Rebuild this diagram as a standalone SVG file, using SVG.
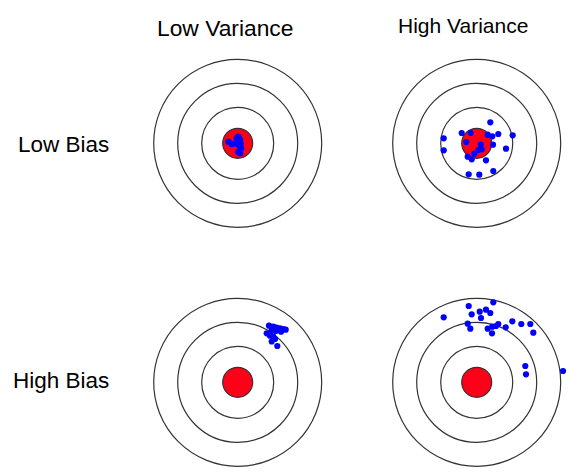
<svg xmlns="http://www.w3.org/2000/svg" width="582" height="476" viewBox="0 0 582 476">
<style>
.ring{fill:none;stroke:#333;stroke-width:1.2}
.bull{fill:#ff0018;stroke:#333;stroke-width:1.2}
.dot{fill:#0000ff}
.lbl{font-family:"Liberation Sans",Arial,sans-serif;fill:#000}
</style>
<defs>
<g id="target">
<circle class="ring" r="84"/>
<circle class="ring" r="60"/>
<circle class="ring" r="36"/>
<circle class="bull" r="15"/>
</g>
</defs>
<rect width="582" height="476" fill="#fff"/>
<text class="lbl" x="157" y="36" font-size="22.8">Low Variance</text>
<text class="lbl" x="398" y="33" font-size="21">High Variance</text>
<text class="lbl" x="18" y="152" font-size="22.5">Low Bias</text>
<text class="lbl" x="13" y="388" font-size="22.5">High Bias</text>
<g id="target-lowbias-lowvar">
<use href="#target" x="237.7" y="143.3"/>
<g class="dot">
<circle cx="228.5" cy="141.7" r="3.3"/><circle cx="231.7" cy="144" r="3.3"/><circle cx="235.7" cy="143.3" r="3.3"/>
<circle cx="236.7" cy="138.3" r="3.3"/><circle cx="238.3" cy="136.7" r="3.3"/><circle cx="240" cy="140" r="3.3"/>
<circle cx="239" cy="145" r="3.3"/><circle cx="241" cy="148.3" r="3.3"/><circle cx="238.3" cy="151.7" r="3.3"/>
<circle cx="240" cy="153.3" r="3.3"/><circle cx="240.5" cy="144" r="3.3"/>
</g>
</g>
<g id="target-lowbias-highvar">
<use href="#target" x="476.7" y="143.3"/>
<g class="dot">
<circle cx="490.3" cy="122.3" r="3.1"/><circle cx="461.7" cy="133" r="3.1"/><circle cx="470.7" cy="133" r="3.1"/>
<circle cx="487.7" cy="134.7" r="3.1"/><circle cx="492.3" cy="136.3" r="3.1"/><circle cx="498.3" cy="134" r="3.1"/>
<circle cx="512.7" cy="135.3" r="3.1"/><circle cx="443.7" cy="138.3" r="3.1"/><circle cx="466.3" cy="142" r="3.1"/>
<circle cx="493" cy="144.7" r="3.1"/><circle cx="480.7" cy="144.7" r="3.1"/><circle cx="506" cy="148.7" r="3.1"/>
<circle cx="443.7" cy="150.3" r="3.1"/><circle cx="481.7" cy="149.3" r="3.1"/><circle cx="478.3" cy="150" r="3.1"/>
<circle cx="474.3" cy="153.7" r="3.1"/><circle cx="467.7" cy="156.7" r="3.1"/><circle cx="471.7" cy="159.3" r="3.1"/>
<circle cx="486" cy="160.3" r="3.1"/><circle cx="468.7" cy="174.3" r="3.1"/><circle cx="479.3" cy="174.7" r="3.1"/>
<circle cx="493.3" cy="171" r="3.1"/>
</g>
</g>
<g id="target-highbias-lowvar">
<use href="#target" x="237.7" y="382.3"/>
<g class="dot">
<circle cx="269" cy="325.7" r="3.1"/><circle cx="273.3" cy="326.7" r="3.1"/><circle cx="276.7" cy="327.7" r="3.1"/>
<circle cx="280" cy="328.3" r="3.1"/><circle cx="283.3" cy="329" r="3.1"/><circle cx="285.7" cy="329.7" r="3.1"/>
<circle cx="271.7" cy="330" r="3.1"/><circle cx="275.7" cy="331" r="3.1"/><circle cx="281" cy="331.7" r="3.1"/>
<circle cx="266.7" cy="333.3" r="3.1"/><circle cx="270" cy="335.7" r="3.1"/><circle cx="273.3" cy="336.7" r="3.1"/>
<circle cx="275" cy="339" r="3.1"/><circle cx="271.7" cy="341.5" r="3.1"/><circle cx="277.3" cy="346" r="3.1"/>
</g>
</g>
<g id="target-highbias-highvar">
<use href="#target" x="476.7" y="382.3"/>
<g class="dot">
<circle cx="493.3" cy="302.3" r="3.1"/><circle cx="468.7" cy="306" r="3.1"/><circle cx="479.7" cy="311.7" r="3.1"/>
<circle cx="486" cy="309.7" r="3.1"/><circle cx="490.3" cy="313" r="3.1"/><circle cx="471.7" cy="314.3" r="3.1"/>
<circle cx="481" cy="318" r="3.1"/><circle cx="443.7" cy="317.3" r="3.1"/><circle cx="467.7" cy="323.7" r="3.1"/>
<circle cx="470.3" cy="328.7" r="3.1"/><circle cx="512.3" cy="321.3" r="3.1"/><circle cx="521.3" cy="324" r="3.1"/>
<circle cx="530.3" cy="324" r="3.1"/><circle cx="533.3" cy="332.7" r="3.1"/><circle cx="505.7" cy="327.3" r="3.1"/>
<circle cx="498.3" cy="324" r="3.1"/><circle cx="496" cy="326" r="3.1"/><circle cx="492.3" cy="326.7" r="3.1"/>
<circle cx="487.7" cy="328.7" r="3.1"/><circle cx="492" cy="333.3" r="3.1"/><circle cx="525.3" cy="366" r="3.1"/>
<circle cx="526" cy="374.3" r="3.1"/><circle cx="563" cy="371" r="3.1"/>
</g>
</g>
</svg>
